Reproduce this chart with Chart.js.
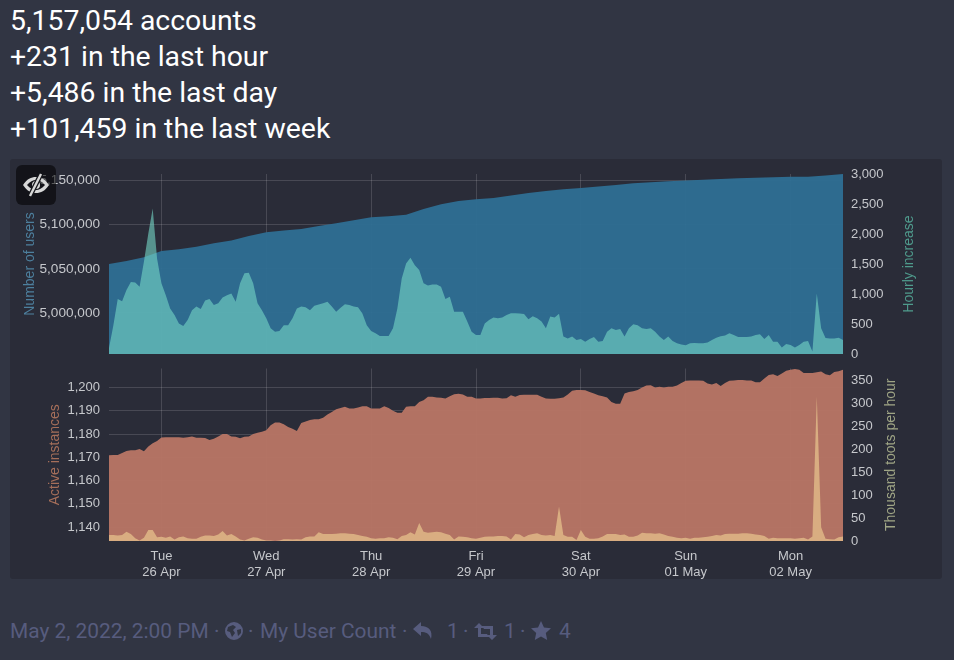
<!DOCTYPE html>
<html lang="en">
<head>
<meta charset="UTF-8">
<title>My User Count</title>
<script src="https://cdn.jsdelivr.net/npm/chart.js"></script>
<style>
    html, body { margin: 0; padding: 0; width: 954px; height: 660px; overflow: hidden; background: #313543; font-family: Roboto, sans-serif; }
    #summary { position: absolute; left: 10px; top: 2.5px; color: #fff; font-size: 28.4px; line-height: 36px; }
    #panel { position: absolute; left: 10px; top: 159px; width: 932px; height: 420px; background: #2a2c38; border-radius: 3px; }
    canvas { position: absolute; left: 0; filter: blur(0.45px); }
    #eye { position: absolute; left: 16px; top: 165px; width: 40px; height: 40px; border-radius: 6px; background: rgba(0,0,0,0.55); }
    #eye svg { position: absolute; left: 6px; top: 6px; }
    .foot { position: absolute; top: 619px; font-size: 20.9px; line-height: 24px; color: #575c7e; white-space: nowrap; }
    .icon { position: absolute; fill: #575c7e; }
</style>
</head>
<body>
<div id="summary">
    <div>5,157,054 accounts</div>
    <div>+231 in the last hour</div>
    <div>+5,486 in the last day</div>
    <div>+101,459 in the last week</div>
</div>
<div id="panel">
    <canvas id="usersChart" style="top:0"></canvas>
    <canvas id="activityChart" style="top:201px"></canvas>
</div>
<div id="eye">
    <svg width="28" height="28" viewBox="0 0 28 28">
        <path d="M1 14 C5 8 9 6 14 6 C19 6 23 8 27 14 C23 20 19 22 14 22 C9 22 5 20 1 14 Z M5 14 C8 17.5 11 19 14 19 C17 19 20 17.5 23 14 C20 10.500 17 9 14 9 C11 9 8 10.500 5 14 Z" fill="#d8d8d8"/>
        <circle cx="14" cy="14" r="4" fill="#d8d8d8"/>
        <path d="M8 25 L19 3" stroke="#15161b" stroke-width="5"/>
        <path d="M8 25 L19 3" stroke="#d8d8d8" stroke-width="2.400"/>
    </svg>
</div>

<span class="foot" style="left:10px">May 2, 2022, 2:00 PM</span>
<span class="foot" style="left:214px">·</span>
<svg class="icon" style="left:224px;top:621px" width="20" height="20" viewBox="0 0 20 20">
    <path fill-rule="evenodd" d="M10 1 A9 9 0 1 0 10 19 A9 9 0 1 0 10 1 Z M4 6 L9 4 L12 6 L9 9 L11 12 L8 16 L6 11 L3 10 Z M13 9 L17 8 L17 12 L14 15 Z"/>
</svg>
<span class="foot" style="left:248px">·</span>
<span class="foot" style="left:260px">My User Count</span>
<span class="foot" style="left:402px">·</span>
<svg class="icon" style="left:412px;top:621px" width="22" height="19" viewBox="0 0 22 19">
    <path d="M9 1 L1 8 L9 15 L9 11 C14 11 17 12 19 18 C21 10 17 5 9 5 Z"/>
</svg>
<span class="foot" style="left:447px">1</span>
<span class="foot" style="left:463px">·</span>
<svg class="icon" style="left:474px;top:623px" width="23" height="17" viewBox="0 0 23 17">
    <path d="M5 0 L10 5 L7 5 L7 11 L13 11 L15 14 L4 14 L4 5 L0 5 Z M18 17 L13 12 L16 12 L16 6 L10 6 L8 3 L19 3 L19 12 L23 12 Z"/>
</svg>
<span class="foot" style="left:504px">1</span>
<span class="foot" style="left:520px">·</span>
<svg class="icon" style="left:531px;top:621px" width="20" height="19" viewBox="0 0 20 19">
    <path d="M10 0 L13 6.500 L20 7.300 L14.800 12 L16.200 19 L10 15.500 L3.800 19 L5.200 12 L0 7.300 L7 6.500 Z"/>
</svg>
<span class="foot" style="left:559px">4</span>

<script>
    // x axis runs in hours from noon on Mon 25 Apr
    const hours = Array.from({ length: 169 }, (_, i) => i);
    const dayHours = [12, 36, 60, 84, 108, 132, 156];
    const dayNames = ['Tue', 'Wed', 'Thu', 'Fri', 'Sat', 'Sun', 'Mon'];
    const dayDates = ['26 Apr', '27 Apr', '28 Apr', '29 Apr', '30 Apr', '01 May', '02 May'];

    const userHours = [0, 4, 8, 12, 16, 20, 24, 28, 32, 36, 40, 44, 48, 52, 56, 60, 64, 68, 72, 76, 80, 84,
        88, 92, 96, 100, 104, 108, 112, 116, 120, 124, 128, 132, 136, 140, 144, 148, 152, 156, 160, 164, 168];
    const users = [5055400, 5058800, 5063000, 5070000, 5072000, 5075000, 5078800, 5082000, 5087000, 5091200, 5093200,
        5095000, 5098300, 5101500, 5105000, 5108200, 5109300, 5111000, 5117500, 5123000, 5126800, 5128500,
        5130000, 5133000, 5135600, 5138000, 5140000, 5141400, 5143000, 5144800, 5146600, 5148000, 5149000,
        5149800, 5150800, 5151500, 5152300, 5153000, 5153600, 5154000, 5154200, 5155600, 5157100];

    const hourlyIncrease = [
        100, 480, 915, 880, 1065, 1200, 1190, 1120, 1540, 2010, 2425, 1590,
        1180, 980, 760, 650, 510, 465, 565, 730, 790, 750, 890, 915,
        815, 845, 940, 980, 1010, 870, 1180, 1345, 1355, 1180, 845, 730,
        595, 430, 370, 385, 480, 480, 595, 760, 790, 780, 730, 805,
        825, 845, 870, 790, 705, 770, 830, 815, 790, 780, 675, 480,
        385, 345, 300, 300, 300, 430, 760, 1260, 1510, 1605, 1480, 1400,
        1180, 1140, 1160, 1160, 1120, 915, 955, 705, 705, 705, 540, 370,
        315, 315, 510, 565, 610, 595, 610, 650, 680, 680, 675, 665,
        580, 630, 595, 540, 430, 625, 610, 670, 290, 260, 290, 235,
        250, 205, 250, 285, 205, 215, 370, 430, 400, 415, 290, 430,
        495, 480, 430, 415, 430, 370, 290, 235, 290, 215, 180, 160,
        145, 180, 185, 180, 180, 190, 235, 270, 295, 310, 345, 315,
        285, 285, 285, 290, 315, 330, 250, 315, 205, 205, 110, 165,
        150, 110, 150, 205, 215, 40, 1010, 430, 265, 260, 260, 270,
        235];

    const activeInstances = [
        1170.9, 1171, 1171, 1171.9, 1172.7, 1173, 1173, 1173.6, 1172.6, 1174.7, 1176, 1177,
        1178.5, 1178.6, 1178.6, 1178.6, 1178.6, 1178.4, 1178.6, 1179, 1178.4, 1178.4, 1178.3, 1177.4,
        1178, 1179, 1180, 1180, 1179, 1178.8, 1178.2, 1178.8, 1179, 1180, 1180.6, 1181,
        1181.6, 1183.8, 1185, 1185, 1184.2, 1183, 1182.3, 1181.3, 1184.8, 1185.4, 1186, 1186.4,
        1186.4, 1187, 1188.4, 1189.5, 1190.7, 1191.2, 1191.8, 1191, 1191, 1191.4, 1192, 1192,
        1191, 1191, 1191, 1192, 1191.2, 1190, 1189.2, 1189.2, 1191.7, 1192, 1192, 1193.8,
        1194.5, 1196, 1196, 1195.7, 1195.6, 1195.3, 1196.3, 1197.1, 1197.3, 1197, 1196, 1196,
        1195.3, 1195.3, 1195.5, 1195.5, 1195.6, 1195.6, 1195.3, 1195.4, 1196.7, 1196, 1196.8, 1196.9,
        1196.9, 1196.9, 1196.9, 1196, 1195.3, 1195.2, 1195.2, 1195.4, 1195.7, 1197, 1198.6, 1198.9,
        1198.9, 1198.8, 1198.1, 1197.4, 1196.7, 1196.3, 1195.7, 1193.8, 1193, 1193, 1197.4, 1198.1,
        1198.4, 1198.9, 1200, 1200.9, 1201, 1200, 1200.3, 1200, 1200.3, 1200.3, 1200.9, 1202,
        1202.9, 1203, 1203, 1203, 1202.9, 1201.7, 1201.3, 1202, 1200.7, 1202, 1202.9, 1203,
        1203.2, 1203.2, 1203, 1203, 1202.3, 1202.3, 1203.9, 1205.4, 1205.7, 1205, 1206, 1207.2,
        1207.7, 1208, 1207.7, 1206.3, 1206.3, 1206.3, 1206.6, 1206.9, 1205.7, 1205.3, 1206.7, 1207,
        1207.7];

    const tootsPerHour = [
        13, 13, 12, 13, 20, 15, 6, 1, 7, 24, 24, 8,
        9, 7, 10, 3, 8, 10, 6, 5, 5, 9, 12, 12,
        11, 14, 22, 12, 15, 10, 3, 1, 5, 8, 7, 3,
        1, 1, 0, 1, 4, 4, 3, 4, 3, 8, 10, 10,
        19, 15, 15, 15, 16, 17, 17, 16, 15, 13, 11, 9,
        6, 5, 6, 6, 8, 7, 4, 11, 13, 19, 14, 39,
        20, 18, 19, 20, 19, 16, 13, 3, 10, 9, 8, 6,
        5, 7, 9, 10, 10, 11, 11, 10, 3, 15, 14, 8,
        13, 15, 17, 13, 12, 13, 11, 75, 13, 9, 9, 2,
        24, 9, 5, 5, 6, 10, 15, 15, 15, 13, 14, 9,
        9, 12, 18, 17, 17, 16, 17, 14, 11, 9, 7, 6,
        7, 5, 7, 7, 8, 9, 11, 13, 12, 15, 16, 16,
        16, 17, 17, 16, 14, 13, 11, 5, 7, 6, 6, 6,
        6, 5, 6, 7, 3, 10, 314, 30, 5, 4, 3, 8,
        10];

    const userTicks = [5000000, 5050000, 5100000, 5150000];
    const increaseTicks = [0, 500, 1000, 1500, 2000, 2500, 3000];
    const instanceTicks = [1140, 1150, 1160, 1170, 1180, 1190, 1200];
    const tootTicks = [0, 50, 100, 150, 200, 250, 300, 350];

    const GRID = 'rgba(255,255,255,0.14)';
    const FONT_FAMILY = '"Liberation Sans", Arial, sans-serif';
    const TICK_FONT = { family: FONT_FAMILY, size: 13, lineHeight: 1.18 };
    const TICK_COLOR = '#c6c8cc';

    function points(xs, ys) {
        return xs.map((x, i) => ({ x: x, y: ys[i] }));
    }

    function area(values, xs, color, axis) {
        return {
            data: points(xs, values),
            yAxisID: axis,
            backgroundColor: color,
            borderWidth: 0,
            pointRadius: 0,
            tension: 0,
            fill: 'start'
        };
    }

    function xAxis(showLabels, axisHeight) {
        return {
            type: 'linear',
            min: 0,
            max: 168,
            afterBuildTicks: s => { s.ticks = dayHours.map(v => ({ value: v })); },
            afterFit: s => {
                s.height = axisHeight;
                s.paddingLeft = 0;
                s.paddingRight = 0;
            },
            grid: { color: GRID, drawTicks: false },
            border: { display: false },
            ticks: {
                display: showLabels,
                autoSkip: false,
                maxRotation: 0,
                padding: 8,
                color: TICK_COLOR,
                font: TICK_FONT,
                callback: v => [dayNames[dayHours.indexOf(v)], dayDates[dayHours.indexOf(v)]]
            }
        };
    }

    function yAxis(side, min, max, tickList, opts) {
        const axis = {
            type: 'linear',
            position: side,
            min: min,
            max: max,
            afterBuildTicks: s => { s.ticks = tickList.map(v => ({ value: v })); },
            afterFit: s => {
                s.width = 99;
                s.paddingTop = 0;
                s.paddingBottom = 0;
            },
            grid: { display: side === 'left', color: GRID, drawTicks: false },
            border: { display: false },
            ticks: {
                padding: side === 'left' ? 9 : 8,
                color: TICK_COLOR,
                font: opts.tickSize ? { family: FONT_FAMILY, size: opts.tickSize } : TICK_FONT,
                callback: v => v.toLocaleString('en-US')
            },
            title: { display: false }
        };
        if (side === 'left') {
            axis.title = {
                display: true,
                text: opts.title,
                color: opts.color,
                font: { family: FONT_FAMILY, size: 14 },
                padding: { top: opts.offset - 8, bottom: 0 }
            };
        } else {
            axis.sideTitle = opts;
        }
        return axis;
    }

    // the library turns a right hand title the other way, these read bottom to top
    const rightTitlePlugin = {
        id: 'rightTitle',
        afterDraw(chart) {
            const scale = Object.values(chart.scales).find(s => s.options.position === 'right');
            const t = scale.options.sideTitle;
            const ctx = chart.ctx;
            ctx.save();
            ctx.translate(scale.right - t.offset, (scale.top + scale.bottom) / 2);
            ctx.rotate(-Math.PI / 2);
            ctx.font = '14px ' + FONT_FAMILY;
            ctx.fillStyle = t.color;
            ctx.textAlign = 'center';
            ctx.textBaseline = 'middle';
            ctx.fillText(t.title, 0, 0);
            ctx.restore();
        }
    };

    function makeChart(id, height, top, datasets, scales) {
        const canvas = document.getElementById(id);
        canvas.width = 932;
        canvas.height = height;
        canvas.style.width = '932px';
        canvas.style.height = height + 'px';
        return new Chart(canvas, {
            type: 'line',
            data: { datasets: datasets },
            plugins: [rightTitlePlugin],
            options: {
                responsive: false,
                animation: false,
                devicePixelRatio: 1,
                layout: { padding: { top: top, left: 0, right: 0, bottom: 0 } },
                plugins: { legend: { display: false }, tooltip: { enabled: false } },
                scales: scales
            }
        });
    }

    makeChart('usersChart', 201, 15, [
        area(hourlyIncrease, hours, 'rgba(119,216,200,0.6)', 'yInc'),
        area(users, userHours, 'rgba(46,112,150,0.93)', 'yUsers')
    ], {
        x: xAxis(false, 6),
        yUsers: yAxis('left', 4953600, 5157200, userTicks, { title: 'Number of users', color: '#4d7f9d', offset: 20, tickSize: 13.6 }),
        yInc: yAxis('right', 0, 3000, increaseTicks, { title: 'Hourly increase', color: '#4f9a8c', offset: 33 })
    });

    makeChart('activityChart', 219, 8.5, [
        area(tootsPerHour, hours, 'rgba(220,178,132,0.92)', 'yToots'),
        area(activeInstances, hours, 'rgba(184,118,101,0.96)', 'yInst')
    ], {
        x: xAxis(true, 38),
        yInst: yAxis('left', 1134, 1208.2, instanceTicks, { title: 'Active instances', color: '#a66f5a', offset: 45 }),
        yToots: yAxis('right', 0, 375, tootTicks, { title: 'Thousand toots per hour', color: '#9fa585', offset: 51 })
    });
</script>
</body>
</html>
